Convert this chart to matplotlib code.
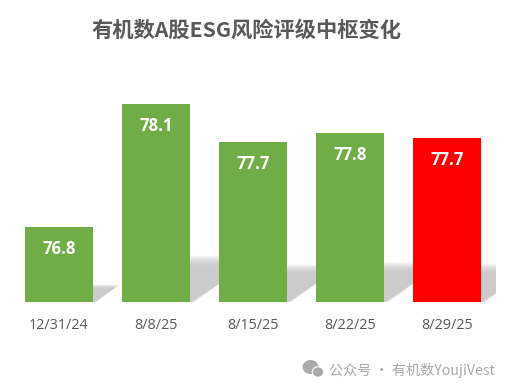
import matplotlib
matplotlib.use('Agg')
import matplotlib.pyplot as plt
from matplotlib.patches import Ellipse, Polygon

categories = ['12/31/24', '8/8/25', '8/15/25', '8/22/25', '8/29/25']
values = [76.8, 78.1, 77.7, 77.8, 77.74]
bar_colors = ['#70AD47', '#70AD47', '#70AD47', '#70AD47', '#FF0000']
title = '有机数A股ESG风险评级中枢变化'
watermark = '公众号 · 有机数YoujiVest'
baseline = 76.01

W, H = 511, 391
CJK = ['Noto Sans CJK SC', 'DejaVu Sans']
fig = plt.figure(figsize=(W / 100, H / 100), dpi=100, facecolor='white')
top_px, bottom_px, left_px, right_px = 80, 302, 10.5, 495.5
ax = fig.add_axes([left_px / W, 1 - bottom_px / H, (right_px - left_px) / W, (bottom_px - top_px) / H])
ax.set_xlim(-0.5, 4.5)
ax.set_ylim(baseline, baseline + (bottom_px - top_px) / 94.6)
for s in ax.spines.values():
    s.set_visible(False)

bar_w = 0.706
# skewed soft shadows
px_x = 97.0
px_y = 94.6
n = 14
for i, v in enumerate(values):
    for k in range(n):
        frac = 0.185 + 0.05 * k / (n - 1)
        inset = 4.0 * (1 - k / (n - 1))
        h = (v - baseline) * frac
        dx = h * px_y / 0.66 / px_x
        x0 = i - bar_w / 2
        x1 = i + bar_w / 2
        poly = Polygon([(x0 + inset / px_x, baseline), (x1 + inset / px_x, baseline),
                        (x1 + dx, baseline + h), (x0 + dx, baseline + h)],
                       closed=True, facecolor='#bcbcbc', edgecolor='none',
                       alpha=0.085, zorder=1)
        ax.add_patch(poly)

ax.bar(range(len(values)), [v - baseline for v in values], bottom=baseline, width=bar_w,
       color=bar_colors, zorder=2)
for i, v in enumerate(values):
    ax.annotate(f'{v:.1f}', (i, v), xytext=(0, -22 * 0.72), textcoords='offset points',
                ha='center', va='center', color='white', fontsize=12, fontweight='bold',
                family='Open Sans', zorder=3)

ax.set_xticks(range(len(categories)), categories)
ax.set_yticks([])
ax.tick_params(axis='x', length=0, pad=11.5, labelcolor='#595959', labelsize=10.4)
for lab in ax.get_xticklabels():
    lab.set_family('Open Sans')

fig.text(246.5 / W, 1 - 30 / H, title, ha='center', va='center', fontsize=15.3,
         fontweight='bold', color='#595959', family=CJK)

# watermark
ov = fig.add_axes([0, 0, 1, 1], facecolor='none')
ov.set_xlim(0, W)
ov.set_ylim(H, 0)
ov.axis('off')
ov.add_patch(Ellipse((310.5, 367), 16, 14, facecolor='#ababab', edgecolor='none'))
ov.add_patch(Ellipse((318, 372), 11.5, 10.5, facecolor='#ababab', edgecolor='white', linewidth=0.8))
ov.text(329, 370, watermark, ha='left', va='center', fontsize=10.2, color='#a9a9a9', family=CJK)

fig.savefig('out.png', dpi=100)
